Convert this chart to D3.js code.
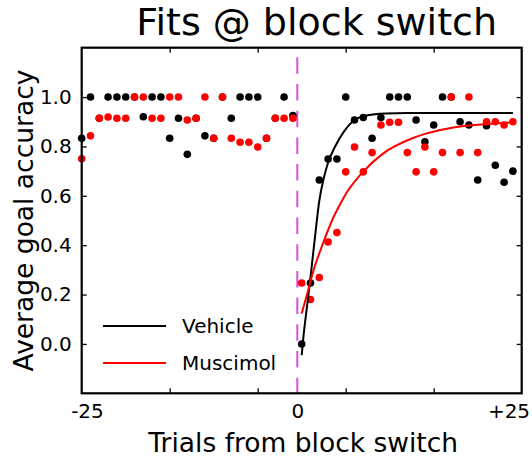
<!DOCTYPE html>
<html>
<head>
<meta charset="utf-8">
<script src="https://cdn.jsdelivr.net/npm/d3@7"></script>
<style>
  html, body { margin: 0; padding: 0; background: #fff; }
  svg { display: block; font-family: "DejaVu Sans", sans-serif; }
</style>
</head>
<body>
<svg id="chart" width="532" height="457"></svg>
<script>
// Trials relative to the block switch (0 = first trial of the new block)
const trials = [
  -25, -24, -23, -22, -21, -20, -19, -18, -17, -16, -15, -14, -13, -12, -11, -10, -9, -8, -7, -6, -5, -4, -3, -2, -1,
  0, 1, 2, 3, 4, 5, 6, 7, 8, 9, 10, 11, 12, 13, 14, 15, 16, 17, 18, 19, 20, 21, 22, 23, 24
];

// Average goal accuracy per trial
const vehicleAcc = [
  0.833, 1.0, 0.914, 1.0, 1.0, 1.0, 1.0, 0.92, 1.0, 1.0, 0.833, 0.914, 0.768, 0.914, 0.843, 0.833, 1.0, 0.914, 1.0, 1.0, 1.0, 0.833, 0.914, 1.0, 0.925,
  0.0, 0.247, 0.664, 0.749, 0.749, 1.0, 0.907, 0.917, 0.833, 0.917, 1.0, 1.0, 1.0, 0.907, 0.819, 0.887, 1.0, 1.0, 0.9, 0.887, 0.664, 0.884, 0.724, 0.655, 0.7
];
const muscimolAcc = [
  0.75, 0.843, 0.914, 0.919, 0.914, 0.914, 1.0, 1.0, 0.914, 0.914, 1.0, 1.0, 0.907, 0.914, 1.0, 0.833, 1.0, 0.833, 0.817, 0.817, 0.798, 0.833, 0.914, 0.914, 0.914,
  0.247, 0.18, 0.269, 0.413, 0.451, 0.697, 0.798, 0.697, 0.775, 0.887, 0.898, 0.898, 0.775, 0.697, 0.798, 0.697, 0.775, 1.0, 0.775, 1.0, 0.775, 0.9, 0.9, 0.887, 0.9
];

// Fitted recovery curves after the switch (trial, accuracy)
const vehicleFitT = [0, 0.2, 0.6, 1.0, 1.5, 2.0, 2.5, 3.0, 3.8, 4.8, 6.0, 7.5, 9.5, 12, 24];
const vehicleFitV = [-0.045, 0.03, 0.15, 0.27, 0.43, 0.58, 0.67, 0.735, 0.8, 0.86, 0.907, 0.926, 0.933, 0.935, 0.935];
const muscimolFitT = [0, 0.6, 1.3, 2.45, 3.6, 4.55, 5.1, 7.0, 9.2, 12.5, 14.2, 16.2, 18, 21, 24];
const muscimolFitV = [0.123, 0.2, 0.293, 0.41, 0.512, 0.578, 0.612, 0.698, 0.77, 0.832, 0.853, 0.87, 0.881, 0.891, 0.898];

const switchAt = -0.5;

// Axis ticks and labels
const xTickMarks = [-15, -5, 5, 15];
const xLabelPos = [-24.4, -0.5, 23.5];
const xLabelText = ["-25", "0", "+25"];
const yTicks = [0.0, 0.2, 0.4, 0.6, 0.8, 1.0];

const seriesNames = ["Vehicle", "Muscimol"];
const seriesColors = ["#000000", "#ff0000"];

const svg = d3.select("#chart");
const plot = { left: 81.7, right: 521.7, top: 47.7, bottom: 393.3 };

const x = d3.scaleLinear().domain([-25, 25]).range([plot.left, plot.right]);
const y = d3.scaleLinear().domain([-0.2, 1.2]).range([plot.bottom, plot.top]);

// Title
svg.append("text")
  .attr("x", (plot.left + plot.right) / 2 + 15)
  .attr("y", 35)
  .attr("text-anchor", "middle")
  .attr("font-size", 38)
  .text("Fits @ block switch");

// Inward tick marks on all four sides
const tickLen = 5;
svg.append("g").attr("transform", `translate(0,${plot.bottom})`)
  .call(d3.axisBottom(x).tickValues(xTickMarks).tickSize(-tickLen).tickFormat(""));
svg.append("g").attr("transform", `translate(0,${plot.top})`)
  .call(d3.axisTop(x).tickValues(xTickMarks).tickSize(-tickLen).tickFormat(""));
svg.append("g").attr("transform", `translate(${plot.left},0)`)
  .call(d3.axisLeft(y).tickValues(yTicks).tickSize(-tickLen).tickPadding(10).tickFormat(d3.format(".1f")));
svg.append("g").attr("transform", `translate(${plot.right},0)`)
  .call(d3.axisRight(y).tickValues(yTicks).tickSize(-tickLen).tickFormat(""));

// x labels sit on their own positions without marks
svg.append("g").attr("transform", `translate(0,${plot.bottom})`)
  .call(d3.axisBottom(x).tickValues(xLabelPos).tickSize(0).tickPadding(10.5)
    .tickFormat((d, i) => xLabelText[i]));

svg.selectAll(".domain").remove();
svg.selectAll(".tick line").attr("stroke", "#000").attr("stroke-width", 1.3);
svg.selectAll(".tick text").attr("font-size", 20).attr("fill", "#000")
  .attr("font-family", "DejaVu Sans, sans-serif");

// Block switch marker
svg.append("line")
  .attr("x1", x(switchAt)).attr("x2", x(switchAt))
  .attr("y1", y(1.2)).attr("y2", y(-0.2))
  .attr("stroke", "#d552d9").attr("stroke-width", 2)
  .attr("stroke-dasharray", "16.5,10.2").attr("stroke-dashoffset", 17.1);

// Points
const dotR = 3.8;
[vehicleAcc, muscimolAcc].forEach((vals, s) => {
  svg.append("g").selectAll("circle")
    .data(trials.map((t, i) => [t, vals[i]]))
    .join("circle")
    .attr("cx", d => x(d[0]))
    .attr("cy", d => y(d[1]))
    .attr("r", dotR)
    .attr("fill", seriesColors[s]);
});

// Fit curves
const fitLine = d3.line().x(d => x(d[0])).y(d => y(d[1])).curve(d3.curveMonotoneX);
[[vehicleFitT, vehicleFitV], [muscimolFitT, muscimolFitV]].forEach(([ts, vs], s) => {
  svg.append("path")
    .datum(ts.map((t, i) => [t, vs[i]]))
    .attr("d", fitLine)
    .attr("fill", "none")
    .attr("stroke", seriesColors[s])
    .attr("stroke-width", 2);
});

// Frame
svg.append("rect")
  .attr("x", plot.left).attr("y", plot.top)
  .attr("width", plot.right - plot.left).attr("height", plot.bottom - plot.top)
  .attr("fill", "none").attr("stroke", "#000").attr("stroke-width", 2.2);

// Legend
const legendY = [326, 363];
seriesNames.forEach((name, i) => {
  svg.append("line")
    .attr("x1", 103).attr("x2", 166)
    .attr("y1", legendY[i]).attr("y2", legendY[i])
    .attr("stroke", seriesColors[i]).attr("stroke-width", 2);
  svg.append("text")
    .attr("x", 182).attr("y", legendY[i] + 7)
    .attr("font-size", 20)
    .text(name);
});

// Axis titles
svg.append("text")
  .attr("x", (plot.left + plot.right) / 2 + 1.5)
  .attr("y", 452)
  .attr("text-anchor", "middle")
  .attr("font-size", 26.5)
  .text("Trials from block switch");

svg.append("text")
  .attr("transform", `translate(33,${(plot.top + plot.bottom) / 2}) rotate(-90)`)
  .attr("text-anchor", "middle")
  .attr("font-size", 26.5)
  .text("Average goal accuracy");
</script>
</body>
</html>
